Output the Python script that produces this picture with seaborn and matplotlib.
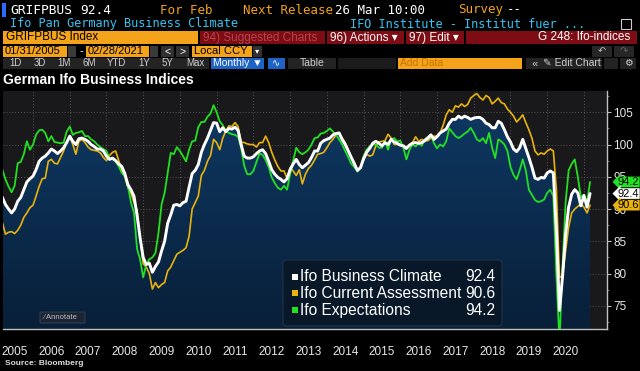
import numpy as np
import pandas as pd
import matplotlib
matplotlib.use('Agg')
import matplotlib.pyplot as plt
import matplotlib.transforms as mtransforms
import seaborn as sns
from matplotlib.patches import Rectangle, FancyBboxPatch
from matplotlib.colors import LinearSegmentedColormap

# monthly values, Jan 2005 .. Feb 2021
climate = [
    92.5, 91.8, 90.7, 90.0, 89.4, 90.0, 91.2, 91.8, 93.0, 94.2, 94.7, 95.1,
    96.1, 97.4, 97.9, 98.2, 98.7, 99.3, 99.0, 98.6, 99.0, 99.5, 100.3, 101.3,
    100.5, 100.0, 100.9, 101.0, 100.8, 100.5, 100.0, 99.7, 99.3, 99.3, 99.0, 98.2,
    97.7, 97.9, 97.5, 97.0, 96.6, 95.5, 93.8, 93.0, 92.0, 89.0, 85.5, 82.5,
    81.4, 81.6, 80.2, 81.1, 81.8, 83.5, 85.0, 87.8, 89.1, 90.6, 90.7, 90.5,
    91.0, 91.2, 93.4, 95.5, 96.0, 96.9, 98.8, 100.0, 101.0, 102.2, 103.4, 103.3,
    102.0, 102.6, 102.0, 102.5, 102.4, 102.7, 102.2, 100.0, 98.2, 97.9, 97.9, 98.1,
    98.6, 99.0, 99.2, 98.6, 97.4, 96.1, 95.4, 94.9, 94.6, 94.2, 94.7, 96.1,
    97.0, 97.7, 96.9, 96.4, 96.8, 97.2, 98.0, 99.0, 99.0, 100.2, 100.6, 100.8,
    101.0, 101.5, 101.7, 101.8, 100.8, 100.0, 99.0, 98.0, 97.0, 96.0, 96.4, 97.8,
    98.8, 99.4, 100.2, 100.5, 100.2, 99.8, 100.3, 100.0, 100.8, 100.4, 100.2, 99.9,
    99.8, 99.4, 99.9, 100.2, 100.3, 100.2, 100.3, 100.6, 101.0, 101.5, 100.8, 101.2,
    101.8, 102.1, 102.4, 103.3, 103.9, 103.9, 104.4, 104.1, 104.4, 104.2, 103.9, 104.1,
    104.2, 104.2, 103.9, 103.3, 103.1, 102.6, 102.6, 103.6, 103.3, 102.3, 101.2, 100.4,
    99.3, 98.9, 99.5, 100.8, 99.4, 98.0, 96.5, 94.8, 94.6, 94.9, 94.8, 95.6,
    95.9, 95.6, 86.5, 74.3, 79.5, 86.0, 90.3, 92.3, 93.0, 92.5, 90.5, 92.1,
    90.3, 92.4,
]
current = [
    88.5, 87.9, 86.1, 86.4, 86.5, 86.2, 86.7, 87.5, 88.7, 89.4, 90.2, 90.6,
    92.0, 93.5, 94.7, 94.8, 97.4, 97.7, 97.1, 97.0, 98.0, 99.0, 100.4, 101.3,
    100.0, 98.5, 100.5, 100.8, 100.3, 99.6, 99.2, 99.1, 99.0, 98.7, 98.0, 97.5,
    98.3, 98.8, 99.0, 97.5, 96.0, 95.0, 93.3, 92.5, 91.0, 89.8, 85.5, 81.5,
    81.0, 80.0, 77.6, 78.6, 77.8, 78.3, 78.6, 80.4, 81.0, 82.0, 83.0, 83.3,
    83.6, 84.0, 85.8, 90.0, 91.0, 92.0, 95.2, 96.0, 97.4, 98.3, 100.8, 100.3,
    99.2, 101.0, 102.1, 102.9, 102.8, 103.4, 102.8, 100.4, 100.3, 100.1, 100.0, 100.0,
    99.6, 100.3, 100.3, 101.3, 100.3, 98.8, 97.6, 96.6, 95.9, 95.9, 94.8, 96.4,
    95.9, 95.2, 96.1, 93.9, 95.4, 96.3, 96.8, 97.6, 98.5, 98.6, 98.8, 99.5,
    100.3, 100.8, 101.5, 101.8, 101.0, 100.3, 99.2, 98.0, 97.2, 95.9, 96.5, 97.6,
    98.5, 98.2, 98.4, 99.8, 100.4, 100.5, 100.6, 101.6, 101.0, 100.0, 100.0, 100.0,
    99.8, 99.3, 100.0, 100.3, 101.2, 100.5, 100.8, 100.6, 100.6, 101.0, 101.3, 101.3,
    101.8, 103.0, 104.6, 105.4, 105.0, 106.0, 105.8, 106.3, 105.9, 106.2, 107.2, 107.6,
    107.9, 107.3, 106.9, 107.6, 107.3, 106.3, 106.7, 107.2, 106.5, 106.3, 105.5, 105.0,
    104.4, 103.5, 104.0, 104.6, 103.4, 102.3, 101.0, 99.0, 98.4, 98.7, 98.5, 99.0,
    99.3, 99.0, 93.0, 79.4, 79.6, 83.5, 87.2, 89.4, 90.0, 90.4, 90.8, 90.3,
    89.4, 90.6,
]
expect = [
    97.0, 96.1, 94.6, 93.5, 92.6, 93.6, 97.1, 97.3, 98.5, 100.5, 99.2, 100.0,
    101.5, 102.2, 102.3, 101.8, 100.5, 101.3, 100.4, 100.3, 100.2, 100.3, 102.0, 102.8,
    101.5, 101.8, 101.9, 102.1, 101.3, 101.3, 100.8, 100.5, 100.0, 99.6, 99.3, 99.0,
    97.9, 97.7, 97.4, 96.6, 95.6, 95.1, 93.6, 91.0, 89.4, 83.8, 82.2, 79.4,
    81.4, 82.2, 82.5, 83.2, 86.3, 90.7, 92.5, 95.6, 98.7, 98.5, 99.6, 99.0,
    98.2, 97.4, 99.2, 100.5, 100.6, 102.7, 103.5, 103.5, 104.3, 104.8, 106.1, 105.0,
    103.6, 103.0, 102.1, 101.8, 101.6, 101.5, 101.2, 99.5, 96.7, 95.4, 95.4, 95.9,
    97.3, 98.6, 98.4, 97.6, 96.5, 94.9, 94.0, 93.3, 93.0, 93.6, 93.0, 95.4,
    97.5, 99.5, 98.8, 98.5, 98.8, 99.2, 100.0, 101.0, 101.1, 101.7, 101.8, 102.1,
    102.5, 102.0, 101.5, 100.8, 100.0, 99.0, 98.0, 97.0, 96.5, 95.8, 96.5, 98.2,
    99.2, 99.7, 100.0, 100.0, 99.5, 99.5, 100.5, 99.2, 100.8, 101.0, 100.5, 100.6,
    99.5, 97.7, 99.2, 100.0, 99.7, 100.2, 99.8, 100.8, 101.2, 101.4, 100.2, 99.4,
    100.0, 99.7, 100.5, 102.5, 101.9, 101.3, 101.0, 101.3, 101.7, 102.0, 102.6, 101.8,
    100.8, 100.5, 101.0, 100.2, 101.8, 99.5, 97.9, 100.8, 100.5, 100.0, 99.0, 96.5,
    95.3, 94.6, 96.0, 97.7, 96.0, 93.0, 92.2, 91.4, 91.1, 91.2, 91.5, 92.5,
    93.0, 92.0, 79.7, 69.4, 81.0, 91.0, 96.0, 97.0, 97.7, 95.0, 91.8, 92.2,
    91.0, 94.2,
]
names = ['Ifo Business Climate', 'Ifo Current Assessment', 'Ifo Expectations']
years = list(range(2005, 2021))
y_ticks = [75, 80, 85, 90, 95, 100, 105]

WHITE, YELLOW, GREEN = '#ffffff', '#eab30c', '#22e022'
ORANGE = '#f5a31a'
DARKRED = '#7e0c14'

dates = pd.date_range('2005-01-31', periods=len(climate), freq='ME')
df = pd.DataFrame({'t': dates.year + dates.month / 12.0,
                   'climate': climate, 'current': current, 'expect': expect})

sns.set_style('dark')
plt.rcParams['font.family'] = ['Liberation Sans', 'DejaVu Sans']
MONO = ['DejaVu Sans Mono', 'DejaVu Sans']

W, H = 640, 371
fig = plt.figure(figsize=(6.4, 3.71), dpi=100, facecolor='black')

# background layer in pixel coordinates (terminal header)
ui = fig.add_axes([0, 0, 1, 1])
ui.set_xlim(0, W)
ui.set_ylim(H, 0)
ui.axis('off')


def box(a, x0, x1, y0, y1, color, **kw):
    a.add_patch(Rectangle((x0, y0), x1 - x0, y1 - y0, facecolor=color,
                          edgecolor=kw.pop('ec', 'none'), **kw))


def txt(a, x, y, s, color='white', size=8, ha='left', **kw):
    a.text(x, y, s, color=color, fontsize=size, ha=ha, va='center', **kw)


# row 1
box(ui, 2, 6, 3, 17, '#2a6cff')
txt(ui, 10, 10, 'GRIFPBUS', size=9.3, family=MONO)
txt(ui, 80, 10, '92.4', size=9.3, family=MONO)
txt(ui, 160, 10, 'For Feb', color=ORANGE, size=9, family=MONO)
txt(ui, 243, 10, 'Next Release', color=ORANGE, size=9, family=MONO)
txt(ui, 335, 10, '26 Mar 10:00', size=9, family=MONO)
txt(ui, 458, 10, 'Survey', color=ORANGE, size=9, family=MONO)
txt(ui, 507, 10, '--', size=9, family=MONO)
# row 2
txt(ui, 10, 24, 'Ifo Pan Germany Business Climate', color='#35c4f2', size=8.6, family=MONO)
txt(ui, 350, 24, 'IFO Institute - Institut fuer ...', color='#35c4f2', size=8.6, family=MONO)
box(ui, 621, 631, 19, 29, 'none', ec='#cccccc', lw=0.8)
# row 3
box(ui, 3, 198, 31, 44, ORANGE)
txt(ui, 6, 37.5, 'GRIFPBUS Index', color='black', size=8.5)
box(ui, 200, 637, 31, 44, DARKRED)
txt(ui, 203, 37.5, '94) Suggested Charts', color='#b2454a', size=8.5)
for xs in (325, 404, 464):
    box(ui, xs, xs + 1.5, 31, 44, 'black')
txt(ui, 330, 37.5, '96) Actions \u25BE', size=8.5)
txt(ui, 409, 37.5, '97) Edit \u25BE', size=8.5)
txt(ui, 630, 37.5, 'G 248: Ifo-indices', size=8.5, ha='right')
# row 4
box(ui, 3, 67, 46, 57, ORANGE)
txt(ui, 5, 51.5, '01/31/2005', color='black', size=8)
box(ui, 68, 76, 46, 57, '#3a3a3a')
txt(ui, 80, 51.5, '-', size=8)
box(ui, 86, 149, 46, 57, ORANGE)
txt(ui, 88, 51.5, '02/28/2021', color='black', size=8)
box(ui, 150, 158, 46, 57, '#3a3a3a')
box(ui, 161, 174, 46, 57, '#303030')
txt(ui, 167.5, 51.5, '<', size=7.5, ha='center')
box(ui, 176, 189, 46, 57, '#303030')
txt(ui, 182.5, 51.5, '>', size=7.5, ha='center')
box(ui, 192, 252, 46, 57, ORANGE)
txt(ui, 194, 51.5, 'Local CCY', color='black', size=8)
box(ui, 253, 262, 46, 57, '#303030')
txt(ui, 257.5, 51.5, '\u25BE', size=6, ha='center')
box(ui, 592, 612, 46, 57, '#262626')
txt(ui, 602, 51.5, '\u21B6', color='#bbbbbb', size=7, ha='center')
box(ui, 614, 634, 46, 57, '#262626')
txt(ui, 624, 51.5, '\u21B7', color='#666666', size=7, ha='center')
# row 5
box(ui, 3, 209, 58, 69, '#232323')
for label, xc in zip(['1D', '3D', '1M', '6M', 'YTD', '1Y', '5Y', 'Max'],
                     [15, 40, 64, 89, 117, 144, 167, 195]):
    txt(ui, xc, 63.5, label, color='#d0d0d0', size=7, ha='center')
box(ui, 211, 264, 58, 69, '#1f62c6')
txt(ui, 237.5, 63.5, 'Monthly \u25BC', size=7.5, ha='center')
box(ui, 268, 285, 58, 69, '#1f62c6')
txt(ui, 276.5, 63.5, '\u223F', size=7, ha='center')
box(ui, 288, 336, 58, 69, '#232323')
txt(ui, 312, 63.5, 'Table', color='#d0d0d0', size=7.5, ha='center')
box(ui, 338, 396, 58, 69, '#1b1b1b')
box(ui, 398, 522, 58, 69, ORANGE)
txt(ui, 400, 63.5, 'Add Data', color='#c27400', size=7.5)
box(ui, 526, 602, 58, 69, '#232323')
txt(ui, 531, 63.5, '\u00AB', color='#d0d0d0', size=8)
txt(ui, 543, 63.5, '\u270E Edit Chart', color='#d0d0d0', size=7.5)
box(ui, 604, 618, 58, 69, '#232323')
box(ui, 620, 636, 58, 69, '#232323')
txt(ui, 628, 63.5, '\u2699', color='#d0d0d0', size=7, ha='center')
# chart title
txt(ui, 3, 80, 'German Ifo Business Indices', size=10, fontweight='bold')
txt(ui, 5, 363.5, 'Source: Bloomberg', color='#dddddd', size=6, fontweight='bold')

# main chart
ax = fig.add_axes([3 / W, 1 - 329 / H, 604 / W, 238 / H])
ax.set_facecolor('#19191b')
x0 = 2006 + (3 - 33) / 36.73
x1 = 2006 + (607 - 33) / 36.73
y0, y1 = 71.4, 108.3

poly = ax.fill_between(df['t'], df['climate'], y0, color='none', lw=0)
navy = LinearSegmentedColormap.from_list('navy', ['#081f38', '#0f3a66'])
im = ax.imshow(np.linspace(0, 1, 256).reshape(-1, 1), extent=[x0, x1, y0, y1],
               origin='lower', aspect='auto', cmap=navy, zorder=1)
im.set_clip_path(poly.get_paths()[0], transform=ax.transData)

sns.lineplot(data=df, x='t', y='current', color=YELLOW, lw=1.2, ax=ax, zorder=3)
sns.lineplot(data=df, x='t', y='expect', color=GREEN, lw=1.3, ax=ax, zorder=4)
sns.lineplot(data=df, x='t', y='climate', color=WHITE, lw=2.1, ax=ax, zorder=5)

ax.set_xlim(x0, x1)
ax.set_ylim(y0, y1)
ax.set_xlabel('')
ax.set_ylabel('')

ax.yaxis.tick_right()
ax.set_yticks(y_ticks)
ax.set_yticklabels([str(v) for v in y_ticks])
ax.set_yticks(np.arange(72.5, 108, 2.5), minor=True)
ax.tick_params(axis='y', which='major', direction='out', length=3, width=0.8,
               color='#bbbbbb', labelcolor='#e8e8e8', labelsize=8.5, pad=1.5)
ax.tick_params(axis='y', which='minor', direction='out', length=1.5, color='#888888')

ax.set_xticks([y + 1 for y in years])
ax.set_xticklabels([])
ax.set_xticks([y + 0.5 for y in years], minor=True)
ax.set_xticklabels([str(y) for y in years], minor=True)
ax.tick_params(axis='x', which='major', direction='out', length=20, width=1,
               color='#4a4a4a')
ax.tick_params(axis='x', which='minor', length=0, pad=12,
               labelcolor='#e8e8e8', labelsize=8.5)

ax.grid(True, which='major', color='#555555', linestyle=(0, (1, 2)), lw=0.7)
for gl in ax.get_xgridlines() + ax.get_ygridlines():
    gl.set_zorder(2)
for side in ('left', 'top'):
    ax.spines[side].set_visible(False)
for side in ('bottom', 'right'):
    ax.spines[side].set_color('#c0c0c0')
    ax.spines[side].set_linewidth(1)

# last-value tags on the right axis
trans = mtransforms.blended_transform_factory(ax.transAxes, ax.transData)
for v, c in [(expect[-1], GREEN), (climate[-1], WHITE), (current[-1], YELLOW)]:
    ax.text(1.018, v, f'{v:.1f}', transform=trans, fontsize=8, color='black',
            va='center', ha='left', clip_on=False, zorder=10,
            bbox=dict(boxstyle='larrow,pad=0.03', fc=c, ec='none'))

# overlay: legend and annotate button
top = fig.add_axes([0, 0, 1, 1])
top.set_xlim(0, W)
top.set_ylim(H, 0)
top.axis('off')
top.patch.set_alpha(0)

top.add_patch(FancyBboxPatch((283, 260), 219, 66, boxstyle='round,pad=0,rounding_size=3',
                             fc='#0a1828', ec='#23344a', lw=0.8, alpha=0.97))
last = [climate[-1], current[-1], expect[-1]]
for i, (name, c, v) in enumerate(zip(names, [WHITE, YELLOW, GREEN], last)):
    yc = 276.7 + i * 16.7
    box(top, 291.5, 297.5, yc - 3, yc + 3, c)
    txt(top, 300, yc, name, size=11.2)
    txt(top, 495, yc, f'{v:.1f}', size=11.2, ha='right')

top.add_patch(FancyBboxPatch((40, 312), 45, 11, boxstyle='round,pad=0,rounding_size=1',
                             fc='#1b2535', ec='#3b4656', lw=0.6))
txt(top, 44, 317.5, '\u2044 Annotate', color='#c0c0c0', size=5.5)

fig.savefig('out.png', dpi=100, facecolor='black')
